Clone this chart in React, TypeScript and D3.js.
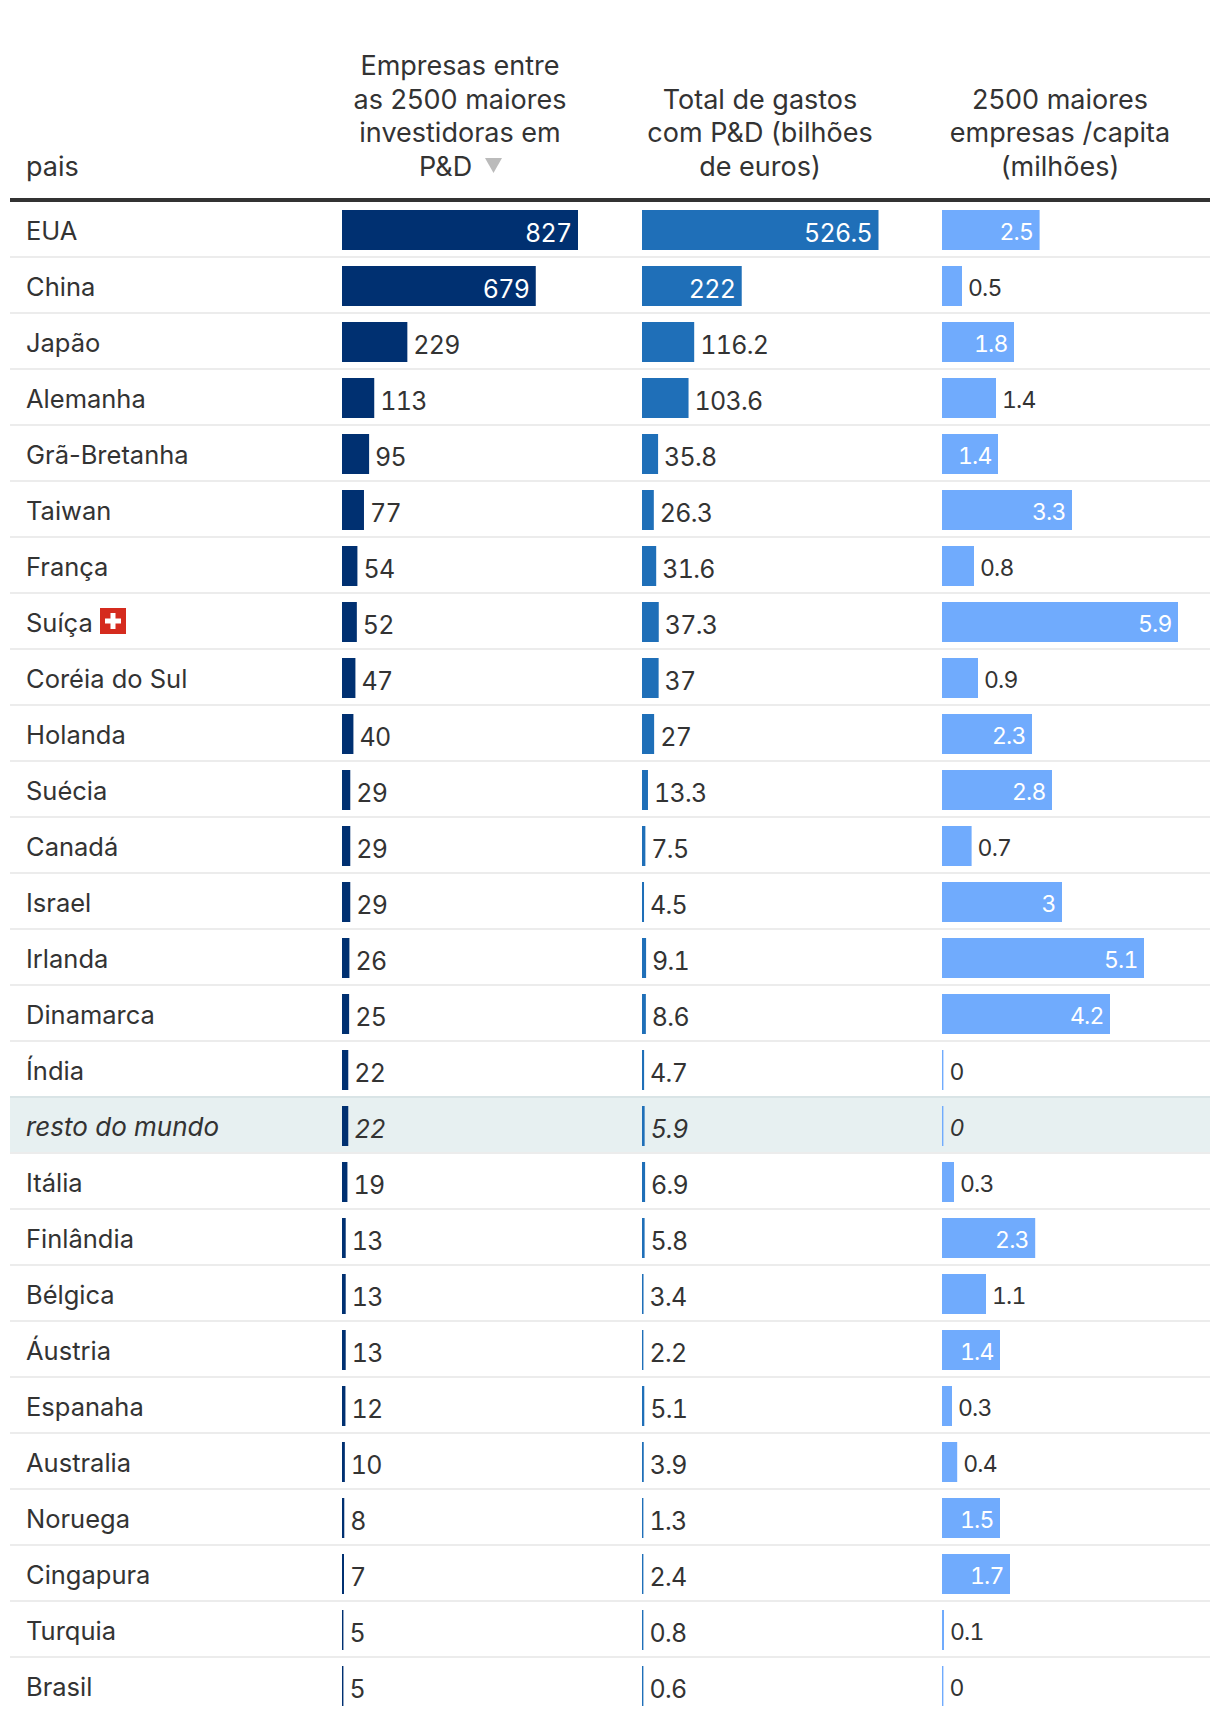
import React from "react";
import * as d3 from "d3";

const countries = ["EUA","China","Japão","Alemanha","Grã-Bretanha","Taiwan","França","Suíça","Coréia do Sul","Holanda","Suécia","Canadá","Israel","Irlanda","Dinamarca","Índia","resto do mundo","Itália","Finlândia","Bélgica","Áustria","Espanaha","Australia","Noruega","Cingapura","Turquia","Brasil"];
const companies = [827,679,229,113,95,77,54,52,47,40,29,29,29,26,25,22,22,19,13,13,13,12,10,8,7,5,5];
const spending = [526.5,222,116.2,103.6,35.8,26.3,31.6,37.3,37,27,13.3,7.5,4.5,9.1,8.6,4.7,5.9,6.9,5.8,3.4,2.2,5.1,3.9,1.3,2.4,0.8,0.6];
const perCapita = [2.44,0.5,1.8,1.35,1.4,3.25,0.8,5.9,0.9,2.25,2.75,0.74,3,5.05,4.2,0.03,0.03,0.3,2.33,1.1,1.45,0.25,0.38,1.45,1.7,0.05,0.03];
const perCapitaLabels = ["2.5","0.5","1.8","1.4","1.4","3.3","0.8","5.9","0.9","2.3","2.8","0.7","3","5.1","4.2","0","0","0.3","2.3","1.1","1.4","0.3","0.4","1.5","1.7","0.1","0"];
const header1 = ["Empresas entre","as 2500 maiores","investidoras em"];
const header1Last = "P&D";
const header2 = ["Total de gastos","com P&D (bilhões","de euros)"];
const header3 = ["2500 maiores","empresas /capita","(milhões)"];

const FONT = "Inter, sans-serif";
const TEXT = "#333333";
const rowsY = d3.scaleBand<number>().domain(d3.range(countries.length)).range([202, 202 + 56 * countries.length]);
const x1 = d3.scaleLinear().domain([0, 827]).range([342, 578]);
const x2 = d3.scaleLinear().domain([0, 526.5]).range([642, 878.5]);
const x3 = d3.scaleLinear().domain([0, 5.9]).range([942, 1178]);

function textWidth(s: string, digit: number) {
  return d3.sum(Array.from(s), (c) => (c === "." ? digit * 0.5 : digit));
}

function BarColumn({ values, labels, x, color, size, digit, dy, spacing }: any) {
  const x0 = x(0);
  return (
    <g>
      {values.map((v: number, i: number) => {
        const top = rowsY(i)! + 8;
        const w = Math.max(x(v) - x0, 1.4);
        const label = labels[i];
        const inside = w >= textWidth(label, digit) + 21;
        const rest = i === 16;
        return (
          <g key={i}>
            <rect x={x0} y={top} width={w} height={40} fill={color} />
            <text
              x={inside ? x0 + w - 6.5 : x0 + w + 6}
              y={top + dy}
              textAnchor={inside ? "end" : "start"}
              fill={inside ? "#ffffff" : TEXT}
              fontSize={size}
              fontStyle={rest ? "italic" : "normal"}
              fontFamily={FONT}
              letterSpacing={spacing}
              style={{ fontVariantNumeric: "tabular-nums" }}
            >
              {label}
            </text>
          </g>
        );
      })}
    </g>
  );
}

function Header({ lines, cx, last }: { lines: string[]; cx: number; last: number }) {
  const n = lines.length;
  return (
    <g>
      {lines.map((l, i) => (
        <text key={i} x={cx} y={last - (n - 1 - i) * 33.7} textAnchor="middle" fontSize={27} fill={TEXT} fontFamily={FONT}>
          {l}
        </text>
      ))}
    </g>
  );
}

export default function App() {
  const flagY = rowsY(7)! + 14;
  return (
    <svg width={1220} height={1722} style={{ position: "absolute", left: 0, top: 0, background: "#fff" }}>
      <text x={26} y={176} fontSize={27} fill={TEXT} fontFamily={FONT}>pais</text>
      <Header lines={header1} cx={460} last={176 - 33.7} />
      <text x={419} y={176} fontSize={27} fill={TEXT} fontFamily={FONT}>{header1Last}</text>
      <path d="M485,158L502,158L493.5,173Z" fill="#bbbbbb" />
      <Header lines={header2} cx={760} last={176} />
      <Header lines={header3} cx={1060} last={176} />
      <rect x={10} y={198} width={1200} height={4} fill={TEXT} />
      <rect x={10} y={rowsY(16)!} width={1200} height={56} fill="#e7f0f1" />
      {countries.map((_, i) =>
        i < countries.length - 1 ? (
          <rect key={i} x={10} y={rowsY(i)! + 54} width={1200} height={2} fill={i === 15 ? "#d9e4e6" : "#ececec"} />
        ) : null
      )}
      {countries.map((c, i) => (
        <text key={c} x={26} y={rowsY(i)! + 38} fontSize={i === 16 ? 26 : 25.5} fill={TEXT} fontStyle={i === 16 ? "italic" : "normal"} fontFamily={FONT}>
          {c}
        </text>
      ))}
      <g transform={`translate(100,${flagY})`}>
        <rect width={26} height={26} fill="#d52b1e" />
        <rect x={10.5} y={5} width={5} height={16} fill="#fff" />
        <rect x={5} y={10.5} width={16} height={5} fill="#fff" />
      </g>
      <BarColumn values={companies} labels={companies.map(String)} x={x1} color="#003071" size={25} digit={15} dy={32} spacing={-0.7} />
      <BarColumn values={spending} labels={spending.map(String)} x={x2} color="#1f6fb8" size={25} digit={15} dy={32} spacing={-0.7} />
      <BarColumn values={perCapita} labels={perCapitaLabels} x={x3} color="#70abfd" size={23} digit={13.8} dy={30} spacing={-0.8} />
    </svg>
  );
}
